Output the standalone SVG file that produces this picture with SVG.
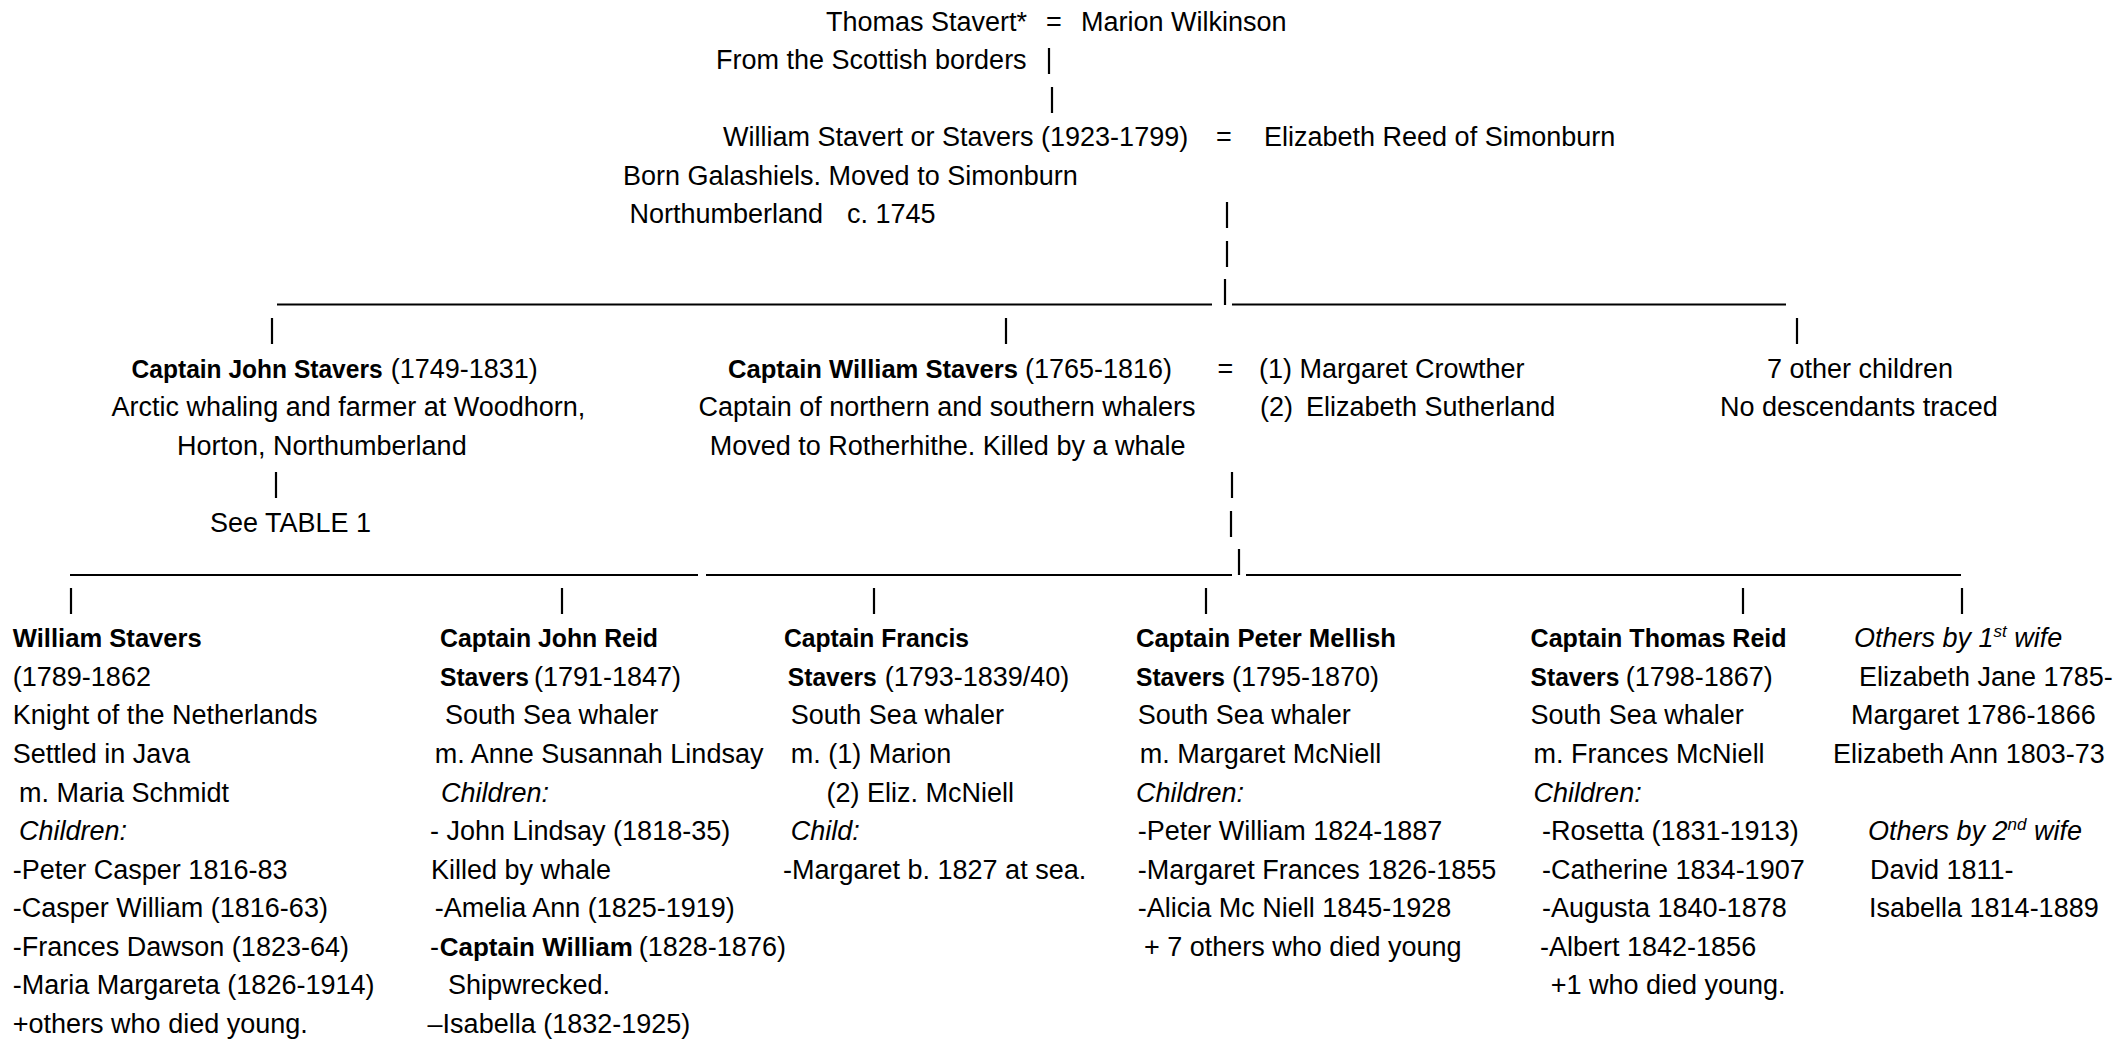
<svg xmlns="http://www.w3.org/2000/svg" width="2122" height="1040" viewBox="0 0 2122 1040">
<style>
text{font-family:"Liberation Sans",Arial,sans-serif;font-size:27px;fill:#000}
.b{font-weight:bold;font-size:25px}
.i{font-style:italic}
.sup{font-size:17px}
#connectors line{stroke:#000;stroke-width:2.2;fill:none}
</style>
<rect width="2122" height="1040" fill="#fff"/>
<g id="connectors">
<line x1="1049" y1="48" x2="1049" y2="74"/>
<line x1="1052" y1="87" x2="1052" y2="113"/>
<line x1="1227" y1="202" x2="1227" y2="228"/>
<line x1="1227" y1="241" x2="1227" y2="267"/>
<line x1="1225" y1="279" x2="1225" y2="305"/>
<line x1="277" y1="304.5" x2="1212" y2="304.5"/>
<line x1="1232" y1="304.5" x2="1786" y2="304.5"/>
<line x1="272" y1="318" x2="272" y2="344"/>
<line x1="1006" y1="318" x2="1006" y2="344"/>
<line x1="1797" y1="318" x2="1797" y2="344"/>
<line x1="276" y1="472" x2="276" y2="498"/>
<line x1="1232" y1="472" x2="1232" y2="498"/>
<line x1="1231" y1="511" x2="1231" y2="537"/>
<line x1="1239" y1="549" x2="1239" y2="575"/>
<line x1="70" y1="575" x2="698" y2="575"/>
<line x1="706" y1="575" x2="1232" y2="575"/>
<line x1="1246" y1="575" x2="1961" y2="575"/>
<line x1="71" y1="588" x2="71" y2="614"/>
<line x1="562" y1="588" x2="562" y2="614"/>
<line x1="874" y1="588" x2="874" y2="614"/>
<line x1="1206" y1="588" x2="1206" y2="614"/>
<line x1="1743" y1="588" x2="1743" y2="614"/>
<line x1="1962" y1="588" x2="1962" y2="614"/>
</g>
<g id="n-thomas-couple">
<text x="826" y="30.5">Thomas Stavert*</text>
<text x="1046" y="30.5">=</text>
<text x="1081" y="30.5">Marion Wilkinson</text>
<text x="716" y="69.1">From the Scottish borders</text>
</g>
<g id="n-william-stavert">
<text x="723" y="146.2">William Stavert or Stavers (1923-1799)</text>
<text x="1216" y="146.2">=</text>
<text x="623" y="184.7">Born Galashiels. Moved to Simonburn</text>
<text x="629.5" y="223.3">Northumberland</text>
<text x="847" y="223.3">c. 1745</text>
</g>
<g id="n-elizabeth-reed">
<text x="1264" y="146.2">Elizabeth Reed of Simonburn</text>
</g>
<g id="n-john-stavers">
<text x="131.6" y="377.5"><tspan class="b" textLength="251" lengthAdjust="spacingAndGlyphs">Captain John Stavers</tspan><tspan x="390.7">(1749-1831)</tspan></text>
<text x="111.6" y="416">Arctic whaling and farmer at Woodhorn,</text>
<text x="177" y="454.6">Horton, Northumberland</text>
<text x="210" y="531.7">See TABLE 1</text>
</g>
<g id="n-william-capt">
<text x="728" y="377.5"><tspan class="b" textLength="290" lengthAdjust="spacingAndGlyphs">Captain William Stavers</tspan><tspan x="1025">(1765-1816)</tspan></text>
<text x="1217.6" y="377.5">=</text>
<text x="698.6" y="416">Captain of northern and southern whalers</text>
<text x="709.7" y="454.6">Moved to Rotherhithe. Killed by a whale</text>
</g>
<g id="n-wives">
<text x="1259" y="377.5">(1) Margaret Crowther</text>
<text x="1260" y="416">(2)</text>
<text x="1306" y="416">Elizabeth Sutherland</text>
</g>
<g id="n-other-children">
<text x="1767" y="377.5">7 other children</text>
<text x="1720" y="416">No descendants traced</text>
</g>
<g id="n-william-stavers">
<text class="b" x="12.8" y="647.3" textLength="189" lengthAdjust="spacingAndGlyphs">William Stavers</text>
<text x="12.8" y="685.9">(1789-1862</text>
<text x="12.8" y="724.4">Knight of the Netherlands</text>
<text x="12.8" y="763">Settled in Java</text>
<text x="18.9" y="801.5">m. Maria Schmidt</text>
<text class="i" x="18.9" y="840.1">Children:</text>
<text x="12.8" y="878.6">-Peter Casper 1816-83</text>
<text x="12.8" y="917.2">-Casper William (1816-63)</text>
<text x="12.8" y="955.7">-Frances Dawson (1823-64)</text>
<text x="12.8" y="994.3">-Maria Margareta (1826-1914)</text>
<text x="12.8" y="1032.8">+others who died young.</text>
</g>
<g id="n-john-reid">
<text class="b" x="440" y="647.3" textLength="218" lengthAdjust="spacingAndGlyphs">Captain John Reid</text>
<text x="440" y="685.9"><tspan class="b" textLength="89" lengthAdjust="spacingAndGlyphs">Stavers</tspan><tspan x="534">(1791-1847)</tspan></text>
<text x="445" y="724.4">South Sea whaler</text>
<text x="434.7" y="763">m. Anne Susannah Lindsay</text>
<text class="i" x="441" y="801.5">Children:</text>
<text x="430" y="840.1">- John Lindsay (1818-35)</text>
<text x="431" y="878.6">Killed by whale</text>
<text x="434.7" y="917.2">-Amelia Ann (1825-1919)</text>
<text x="430" y="955.7">-<tspan class="b" x="439.8" textLength="193" lengthAdjust="spacingAndGlyphs">Captain William</tspan><tspan x="638.8">(1828-1876)</tspan></text>
<text x="448" y="994.3">Shipwrecked.</text>
<text x="427.6" y="1032.8">–Isabella (1832-1925)</text>
</g>
<g id="n-francis">
<text class="b" x="784" y="647.3" textLength="185" lengthAdjust="spacingAndGlyphs">Captain Francis</text>
<text x="787.8" y="685.9"><tspan class="b" textLength="89" lengthAdjust="spacingAndGlyphs">Stavers</tspan><tspan x="884.7">(1793-1839/40)</tspan></text>
<text x="790.8" y="724.4">South Sea whaler</text>
<text x="790.8" y="763">m. (1) Marion</text>
<text x="826.5" y="801.5">(2) Eliz. McNiell</text>
<text class="i" x="790.8" y="840.1">Child:</text>
<text x="783" y="878.6">-Margaret b. 1827 at sea.</text>
</g>
<g id="n-peter-mellish">
<text class="b" x="1136" y="647.3" textLength="260" lengthAdjust="spacingAndGlyphs">Captain Peter Mellish</text>
<text x="1136" y="685.9"><tspan class="b" textLength="89" lengthAdjust="spacingAndGlyphs">Stavers</tspan><tspan x="1232">(1795-1870)</tspan></text>
<text x="1137.7" y="724.4">South Sea whaler</text>
<text x="1139.8" y="763">m. Margaret McNiell</text>
<text class="i" x="1136" y="801.5">Children:</text>
<text x="1137.7" y="840.1">-Peter William 1824-1887</text>
<text x="1137.7" y="878.6">-Margaret Frances 1826-1855</text>
<text x="1137.7" y="917.2">-Alicia Mc Niell 1845-1928</text>
<text x="1144" y="955.7">+ 7 others who died young</text>
</g>
<g id="n-thomas-reid">
<text class="b" x="1530.6" y="647.3" textLength="256" lengthAdjust="spacingAndGlyphs">Captain Thomas Reid</text>
<text x="1530.6" y="685.9"><tspan class="b" textLength="88.7" lengthAdjust="spacingAndGlyphs">Stavers</tspan><tspan x="1625.7">(1798-1867)</tspan></text>
<text x="1530.6" y="724.4">South Sea whaler</text>
<text x="1533.6" y="763">m. Frances McNiell</text>
<text class="i" x="1533.6" y="801.5">Children:</text>
<text x="1542" y="840.1">-Rosetta (1831-1913)</text>
<text x="1542" y="878.6">-Catherine 1834-1907</text>
<text x="1542" y="917.2">-Augusta 1840-1878</text>
<text x="1540" y="955.7">-Albert 1842-1856</text>
<text x="1550.7" y="994.3">+1 who died young.</text>
</g>
<g id="n-others">
<text class="i" x="1854" y="647.3">Others by 1<tspan class="sup" dy="-10">st</tspan><tspan dy="10"> wife</tspan></text>
<text x="1859" y="685.9">Elizabeth Jane 1785-</text>
<text x="1851" y="724.4">Margaret 1786-1866</text>
<text x="1833" y="763">Elizabeth Ann 1803-73</text>
<text class="i" x="1868" y="840.1">Others by 2<tspan class="sup" dy="-10">nd</tspan><tspan dy="10"> wife</tspan></text>
<text x="1870" y="878.6">David 1811-</text>
<text x="1869" y="917.2">Isabella 1814-1889</text>
</g>
</svg>
